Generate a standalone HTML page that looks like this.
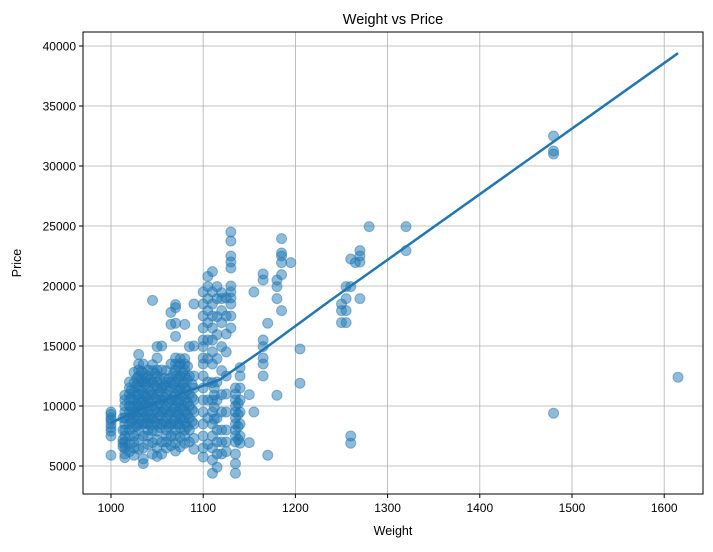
<!DOCTYPE html>
<html><head><meta charset="utf-8"><style>
body{margin:0;background:#fff;}
svg text{font-family:"Liberation Sans","DejaVu Sans",sans-serif;fill:#000;}
</style></head><body>
<svg id="chart" width="713" height="547" xmlns="http://www.w3.org/2000/svg">
<g id="grid"></g>
<g id="pts"></g>
<g id="fit"></g>
<rect x="83" y="32" width="620" height="462" fill="none" stroke="#000" stroke-width="1"/>
<g id="ticks"></g>
<text x="393" y="24" text-anchor="middle" font-size="14.5">Weight vs Price</text>
<text x="393" y="535" text-anchor="middle" font-size="12.5">Weight</text>
<text x="21" y="263" text-anchor="middle" font-size="12.5" transform="rotate(-90 21 263)">Price</text>
</svg>
<script>
const xTicks=[1000,1100,1200,1300,1400,1500,1600];
const yTicks=[5000,10000,15000,20000,25000,30000,35000,40000];
const columnWeights=[1000,1013,1015,1020,1025,1030,1035,1040,1045,1050,1055,1060,1065,1070,1075,1080,1085,1090,1100,1105,1110,1115,1120,1125,1130,1135,1140,1150,1155,1165,1170,1180,1185,1195,1205,1250,1255,1260,1265,1270,1280,1320,1480,1615,
1022,1028,1033,1038,1043,1048,1053,1058,1063,1068,1073,1078,1083,1088,1112,1138];
const columnPrices=[
[5900,7500,7900,8200,8500,8800,9000,9300,9500],
[6600,6900,7200,8000,9000],
[5700,6000,6500,7000,7500,8000,8500,9000,9500,10000,10500,10900],
[6200,6800,7500,8000,8500,9000,9500,10000,10500,11000,11500,12000],
[5900,6500,7000,7500,8250,8900,9500,9950,10500,11200,11950,12800],
[6400,7200,7950,8500,9000,9500,10000,10500,11000,11500,12000,12500,13000,13500,14300],
[5200,5600,6500,7500,8500,9500,10450,11000,11950,12750,13500],
[6800,7500,8000,8500,9000,9500,10000,10500,11000,11500,12000,12500,13000],
[6000,6950,7950,8950,9950,10950,11950,12950,13450,18800],
[5800,6500,7200,7900,8500,9000,9500,10000,10500,11000,11500,12000,12500,13000,14000,14950],
[6000,7000,8500,9500,10500,11500,13000,15000],
[6500,7000,7500,8000,8500,9000,9500,10000,10500,11000,11500,12000,12950],
[6700,7500,8500,9500,10500,11950,13500,16800,17800],
[6250,6900,7500,8000,8500,9000,9500,10000,10500,11000,11500,12000,12500,13000,13500,14000,15800,16900,18200,18450],
[6600,7400,8200,9000,9800,10500,11500,12500,13500,13950],
[6900,7500,8000,8500,9000,9500,10000,10500,11000,11500,12000,12500,13000,13500,13950,16800],
[7000,8000,9000,10000,11000,12500,14950],
[6400,7300,8500,9500,10500,11500,12500,15000,18500],
[5750,6500,7500,8500,9500,10500,11500,12500,13500,14000,14950,15500,16500,17500,18500,19500],
[6800,9000,10500,12000,13950,15500,16950,17950,18950,19950,20800],
[4400,5500,6500,7500,8500,9500,10500,11950,13500,14500,15500,16500,17500,18500,19500,21200],
[4900,6000,7000,8000,9000,10500,12000,13950,15950,17450,18950,19950],
[6000,7000,8000,9500,10950,12950,14950,16950,17950,18950,19450],
[6200,7000,8000,9500,11000,12500,14500,16000,17500,19000],
[16500,17500,18500,19000,19500,20000,21500,22000,22500,23750,24500],
[4400,5200,6000,7000,7500,8000,8500,9000,9500,10000,10500,11000,11500],
[6900,7500,8500,9500,10500,11500,12500,13200],
[6950,10950],
[9500,19500],
[12500,13500,14000,14950,15500,20500,21000],
[5900,16900],
[10900,18950,19950,20500],
[17950,20950,21950,22500,22750,23950],
[21950],
[11900,14750],
[16950,17950,18500],
[16950,17950,18950,19950],
[6900,7500,19950,22250],
[21950],
[18950,22000,22500,22950],
[24950],
[22950,24950],
[9400,31000,31250,32500],
[12400],
[8700,9300,9900,10700,11300],
[8300,9200,10200,10900,11700,12300],
[8800,9700,10300,11300,12200,12900],
[8600,9200,10200,10800,11800,12300],
[8400,9300,10300,11200,12200],
[8700,9700,10700,11700,12700],
[8200,9200,10200,11200,12200],
[8700,9700,10700,11700,12300],
[8300,9300,10300,11300,12300],
[8800,9800,10800,11800,12700],
[8500,9300,10300,11300,12300,13300],
[8800,9700,10800,11800,12800],
[8300,9300,10300,11300,12200,13300],
[8700,9700,10700,11800],
[8900,9900,10900,11500],
[7200,8300,9300,10200]];
const fitWeights=[1000,1020,1050,1086,1118,1167,1238,1615];
const fitPrices=[8600,9300,10300,11300,12200,14800,18800,39400];
const NS="http://www.w3.org/2000/svg";
const X=w=>111+(w-1000)*0.922;
const Y=p=>466-(p-5000)*0.012;
const grid=document.getElementById('grid'),ticks=document.getElementById('ticks'),pts=document.getElementById('pts'),fit=document.getElementById('fit');
function mk(tag,attrs,parent){const e=document.createElementNS(NS,tag);for(const k in attrs)e.setAttribute(k,attrs[k]);parent.appendChild(e);return e;}
xTicks.forEach(t=>{const x=X(t);
 const g=mk('line',{x1:x,x2:x,y1:32,y2:494,stroke:'#b0b0b0','stroke-width':0.8},grid);
 
 
 mk('line',{x1:x,x2:x,y1:494,y2:498,stroke:'#000'},ticks);
 const l=mk('text',{x:x,y:512,'text-anchor':'middle','font-size':12},ticks);l.textContent=t;
 
 
});
yTicks.forEach(t=>{const y=Y(t);
 const g=mk('line',{x1:83,x2:703,y1:y,y2:y,stroke:'#b0b0b0','stroke-width':0.8},grid);
 
 
 mk('line',{x1:79,x2:83,y1:y,y2:y,stroke:'#000'},ticks);
 const l=mk('text',{x:76,y:y+4.5,'text-anchor':'end','font-size':12},ticks);l.textContent=t;
 
 
});
columnWeights.forEach((w,i)=>{columnPrices[i].forEach(p=>{
 const c=mk('circle',{cx:X(w),cy:Y(p),r:5,fill:'#1f77b4','fill-opacity':0.5,stroke:'#1f77b4','stroke-opacity':0.5},pts);
 
 
});});
const pl=mk('polyline',{points:fitWeights.map((w,i)=>X(w)+','+Y(fitPrices[i])).join(' '),fill:'none',stroke:'#1f77b4','stroke-width':2.5},fit);


</script>
</body></html>
